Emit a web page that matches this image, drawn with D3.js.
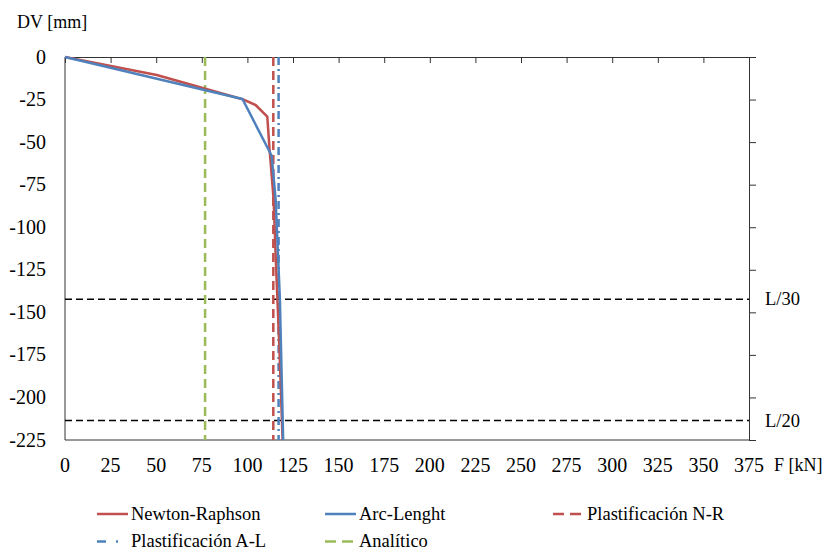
<!DOCTYPE html>
<html>
<head>
<meta charset="utf-8">
<script src="https://cdn.jsdelivr.net/npm/d3@7"></script>
<style>
  html, body { margin: 0; padding: 0; background: #fff; }
</style>
</head>
<body>
<svg id="chart" width="824" height="551"></svg>
<script>
// Load F [kN] vs vertical displacement DV [mm]
const newtonRaphson = [
  [0, 0], [50.3, -10.6], [97.3, -24.8], [104.5, -28.2], [110.9, -35],
  [112.2, -55], [114.4, -84], [115.6, -120], [117.5, -170], [119.3, -225]
];
const arcLength = [
  [0, 0], [97.3, -24.7], [113.3, -58], [115.5, -84], [117.8, -142], [119.6, -225]
];
// Yield / analytic reference loads [kN]
const plastNR = 114.2;
const plastAL = 117.1;
const analytic = 76.8;
// Span-based deflection limits
const spanL = 4270;
const limits = [
  { label: "L/30", value: -spanL / 30 },
  { label: "L/20", value: -spanL / 20 }
];
const xTicks = d3.range(0, 376, 25);
const yTicks = d3.range(0, -226, -25);

const colors = { red: "#C0504D", blue: "#4F81BD", green: "#9BBB59" };
const FONT = "'Liberation Serif', 'Times New Roman', 'DejaVu Serif', serif";

const svg = d3.select("#chart").attr("font-family", FONT);
const x = d3.scaleLinear().domain([0, 375]).range([65, 749]);
const y = d3.scaleLinear().domain([0, -225]).range([57, 440]);

// Plot frame: left and bottom edges
svg.append("line").attr("x1", x(0)).attr("x2", x(0)).attr("y1", y(0)).attr("y2", y(-225))
  .attr("stroke", "#333").attr("stroke-width", 1);
svg.append("line").attr("x1", x(0)).attr("x2", x(375)).attr("y1", y(-225)).attr("y2", y(-225))
  .attr("stroke", "#333").attr("stroke-width", 1);

// Horizontal axis along DV = 0 with inward ticks
const topAxis = d3.axisBottom(x).tickValues(xTicks).tickSize(6).tickFormat("");
svg.append("g").attr("transform", `translate(0,${y(0)})`).call(topAxis)
  .call(g => g.selectAll("path,line").attr("stroke", "#333"));

// Vertical axis at the right edge with outward ticks
const rightAxis = d3.axisRight(y).tickValues(yTicks).tickSize(7).tickFormat("");
svg.append("g").attr("transform", `translate(${x(375)},0)`).call(rightAxis)
  .call(g => g.selectAll("path,line").attr("stroke", "#333"));

// Tick labels
svg.append("g").selectAll("text").data(yTicks).join("text")
  .attr("x", 46).attr("y", d => y(d)).attr("dy", "0.33em")
  .attr("text-anchor", "end").attr("font-family", FONT).attr("font-size", 20).text(d => d);
svg.append("g").selectAll("text").data(xTicks).join("text")
  .attr("x", d => x(d)).attr("y", 465).attr("dy", "0.33em")
  .attr("text-anchor", "middle").attr("font-family", FONT).attr("font-size", 20).text(d => d);

svg.append("text").attr("x", 17).attr("y", 28).attr("font-family", FONT).attr("font-size", 18).text("DV [mm]");
svg.append("text").attr("x", 774).attr("y", 465).attr("dy", "0.33em").attr("font-family", FONT).attr("font-size", 18).text("F [kN]");

// Deflection limit lines
svg.append("g").selectAll("line").data(limits).join("line")
  .attr("x1", x(0)).attr("x2", x(375))
  .attr("y1", d => y(d.value)).attr("y2", d => y(d.value))
  .attr("stroke", "#000").attr("stroke-width", 1.5).attr("stroke-dasharray", "7,4");
svg.append("g").selectAll("text").data(limits).join("text")
  .attr("x", 765).attr("y", d => y(d.value)).attr("dy", "0.33em")
  .attr("font-family", FONT).attr("font-size", 18.5).text(d => d.label);

// Vertical reference loads
const vLines = [
  { v: analytic, color: colors.green, dash: "9,5" },
  { v: plastNR, color: colors.red, dash: "9,5" },
  { v: plastAL, color: colors.blue, dash: "8,4,2,4" }
];
svg.append("g").selectAll("line").data(vLines).join("line")
  .attr("x1", d => x(d.v)).attr("x2", d => x(d.v))
  .attr("y1", y(0)).attr("y2", y(-225))
  .attr("stroke", d => d.color).attr("stroke-width", 2.5)
  .attr("stroke-dasharray", d => d.dash);

// Load-displacement curves
const line = d3.line().x(d => x(d[0])).y(d => y(d[1]));
svg.append("path").datum(newtonRaphson).attr("d", line)
  .attr("fill", "none").attr("stroke", colors.red).attr("stroke-width", 2.5)
  .attr("stroke-linejoin", "round");
svg.append("path").datum(arcLength).attr("d", line)
  .attr("fill", "none").attr("stroke", colors.blue).attr("stroke-width", 2.5)
  .attr("stroke-linejoin", "round");

// Legend
const legend = [
  { name: "Newton-Raphson", color: colors.red, dash: null, x: 97, y: 514 },
  { name: "Arc-Lenght", color: colors.blue, dash: null, x: 325, y: 514 },
  { name: "Plastificación N-R", color: colors.red, dash: "11,6", x: 553, y: 514 },
  { name: "Plastificación A-L", color: colors.blue, dash: "9,10,2,20", x: 97, y: 541.5 },
  { name: "Analítico", color: colors.green, dash: "11,6", x: 325, y: 541.5 }
];
const lg = svg.append("g").selectAll("g").data(legend).join("g")
  .attr("transform", d => `translate(${d.x},${d.y})`);
lg.append("line").attr("x1", 0).attr("x2", 31).attr("y1", 0).attr("y2", 0)
  .attr("stroke", d => d.color).attr("stroke-width", 2.5)
  .attr("stroke-dasharray", d => d.dash);
lg.append("text").attr("x", 34).attr("y", 0).attr("dy", "0.32em")
  .attr("font-family", FONT).attr("font-size", 18.5).text(d => d.name);
</script>
</body>
</html>
